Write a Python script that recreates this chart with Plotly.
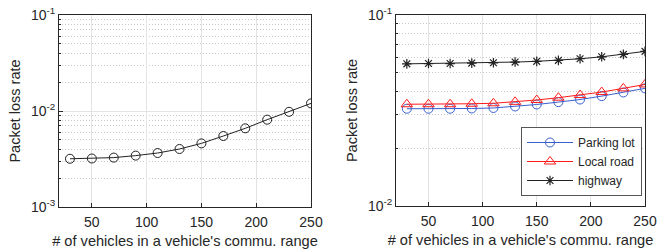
import plotly.graph_objects as go

x_vals = [30, 50, 70, 90, 110, 130, 150, 170, 190, 210, 230, 250]
left_loss = [3.18e-3, 3.2e-3, 3.27e-3, 3.43e-3, 3.65e-3, 4.02e-3, 4.6e-3, 5.49e-3, 6.6e-3, 8.12e-3, 9.8e-3, 1.2e-2]
parking_lot = [0.0323, 0.0323, 0.0323, 0.0324, 0.0326, 0.0332, 0.0340, 0.0350, 0.0361, 0.0376, 0.0393, 0.0413]
local_road = [0.0341, 0.0341, 0.0341, 0.0343, 0.0345, 0.0351, 0.0359, 0.0369, 0.0381, 0.0395, 0.0413, 0.0433]
highway = [0.0555, 0.0557, 0.0557, 0.0560, 0.0562, 0.0567, 0.0572, 0.0579, 0.0590, 0.0604, 0.0622, 0.0645]

x_ticks = [50, 100, 150, 200, 250]
left_y_ticks = [1e-3, 1e-2, 1e-1]
left_y_text = ["10<sup>-3</sup>", "10<sup>-2</sup>", "10<sup>-1</sup>"]
right_y_ticks = [1e-2, 1e-1]
right_y_text = ["10<sup>-2</sup>", "10<sup>-1</sup>"]

x_title = "# of vehicles in a vehicle's commu. range"
y_title = "Packet loss rate"

W, H = 657, 251
FONT = "Liberation Sans, Arial, sans-serif"
TXT = "#262626"

fig = go.Figure()

fig.add_trace(go.Scatter(x=x_vals, y=left_loss, mode="lines+markers",
                         line=dict(color="#222222", width=1),
                         marker=dict(symbol="circle-open", size=9, color="#222222", line=dict(width=1)),
                         showlegend=False, xaxis="x", yaxis="y"))

fig.add_trace(go.Scatter(x=x_vals, y=parking_lot, mode="lines+markers", name="Parking lot",
                         line=dict(color="#3a5fcd", width=1),
                         marker=dict(symbol="circle-open", size=9, color="#3a5fcd", line=dict(width=1)),
                         xaxis="x2", yaxis="y2"))
fig.add_trace(go.Scatter(x=x_vals, y=local_road, mode="lines+markers", name="Local road",
                         line=dict(color="#ff1a1a", width=1),
                         marker=dict(symbol="triangle-up-open", size=10, color="#ff1a1a", line=dict(width=1)),
                         xaxis="x2", yaxis="y2"))
fig.add_trace(go.Scatter(x=x_vals, y=highway, mode="lines+markers", name="highway",
                         line=dict(color="#222222", width=1),
                         marker=dict(symbol="asterisk-open", size=8, color="#222222", line=dict(width=1.2)),
                         xaxis="x2", yaxis="y2"))


def minor_vals(lo, hi):
    v = []
    for e in range(lo, hi):
        for m in range(2, 10):
            v.append(m * 10 ** e)
    return v


def xaxis_cfg(domain, anchor):
    return dict(domain=domain, anchor=anchor, range=[20, 250], tickvals=x_ticks,
                automargin=False,
                showgrid=True, gridcolor="#e3e3e3", gridwidth=1,
                showline=True, linecolor=TXT, linewidth=1, mirror=True,
                ticks="inside", ticklen=4, tickcolor=TXT, ticklabelstandoff=2,
                tickfont=dict(size=14, color=TXT, family=FONT),
                title=dict(text=x_title, font=dict(size=14.6, color=TXT, family=FONT), standoff=6),
                zeroline=False)


def yaxis_cfg(domain, anchor, rng, tv, tt, lo, hi):
    return dict(domain=domain, anchor=anchor, type="log", range=rng, tickvals=tv, ticktext=tt,
                automargin=False,
                showgrid=True, gridcolor="#e3e3e3", gridwidth=1,
                showline=True, linecolor=TXT, linewidth=1, mirror=True,
                ticks="inside", ticklen=4, tickcolor=TXT,
                tickfont=dict(size=14, color=TXT, family=FONT),
                minor=dict(tickvals=minor_vals(lo, hi), ticks="inside", ticklen=2, tickcolor=TXT,
                           showgrid=True, gridcolor="#c8c8c8", griddash="1px,2px", gridwidth=1),
                title=dict(text=y_title, font=dict(size=14.5, color=TXT, family=FONT), standoff=6),
                zeroline=False)


y_dom = [(H - 207) / H, (H - 15) / H]
y_dom2 = [(H - 206) / H, (H - 15) / H]

fig.update_layout(
    width=W, height=H,
    margin=dict(l=0, r=0, t=0, b=0),
    paper_bgcolor="white", plot_bgcolor="white",
    font=dict(family=FONT, color=TXT),
    xaxis=xaxis_cfg([59 / W, 311 / W], "y"),
    yaxis=yaxis_cfg(y_dom, "x", [-3, -1], left_y_ticks, left_y_text, -3, -1),
    xaxis2=xaxis_cfg([396 / W, 645 / W], "y2"),
    yaxis2=yaxis_cfg(y_dom2, "x2", [-2, -1], right_y_ticks, right_y_text, -2, -1),
    legend=dict(x=521 / W, y=(H - 127) / H, xanchor="left", yanchor="top",
                bgcolor="white", bordercolor="#555555", borderwidth=1,
                font=dict(size=12, color=TXT, family=FONT),
                tracegroupgap=0, itemwidth=46),
)

fig.write_html("out.html", config={"displayModeBar": False},
               post_script="document.body.style.margin='0';document.body.style.overflow='hidden';")
